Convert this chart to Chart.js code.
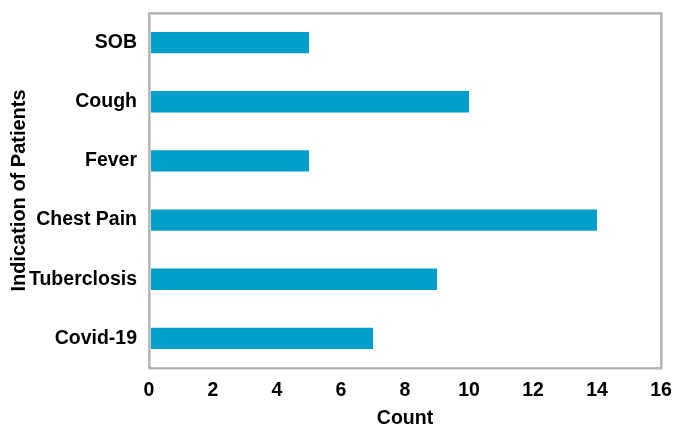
<!DOCTYPE html>
<html>
<head>
<meta charset="utf-8">
<script src="https://cdn.jsdelivr.net/npm/chart.js@4"></script>
<style>
  html, body { margin:0; padding:0; background:#fff; }
  #wrap { width:675px; height:425px; }
</style>
</head>
<body>
<div id="wrap"><canvas id="chart"></canvas></div>
<script>
const categories = ['SOB', 'Cough', 'Fever', 'Chest Pain', 'Tuberclosis', 'Covid-19'];
const counts = [5, 10, 5, 14, 9, 7];
const xTicks = [0, 2, 4, 6, 8, 10, 12, 14, 16];

const BAR_COLOR = '#009fc9';
const FONT = { family: "'Liberation Sans', Arial, sans-serif", size: 19.5, weight: 'bold' };

/* grey frame around the plot area */
const frame = {
  id: 'frame',
  afterDraw(chart) {
    const { ctx, chartArea: a } = chart;
    ctx.save();
    ctx.strokeStyle = '#d4d4d4';
    ctx.lineWidth = 2;
    ctx.strokeRect(a.left + 1, a.top + 1, a.right - a.left, a.bottom - a.top);
    ctx.strokeStyle = '#a6a6a6';
    ctx.lineWidth = 1.5;
    ctx.strokeRect(a.left, a.top, a.right - a.left, a.bottom - a.top);
    ctx.restore();
  }
};

new Chart(document.getElementById('chart'), {
  type: 'bar',
  data: {
    labels: categories,
    datasets: [{ label: 'Count', data: counts, backgroundColor: BAR_COLOR, barPercentage: 0.36, categoryPercentage: 1 }]
  },
  options: {
    indexAxis: 'y',
    responsive: true, maintainAspectRatio: false, animation: false,
    layout: { padding: { top: 13, right: 14, left: 0, bottom: 0 } },
    plugins: { legend: { display: false }, tooltip: { enabled: false } },
    scales: {
      x: {
        min: 0, max: 16,
        afterBuildTicks: s => { s.ticks = xTicks.map(v => ({ value: v })); },
        afterFit: s => { s.height = 57; s.paddingLeft = 0; s.paddingRight = 0; },
        grid: { display: false, drawTicks: false },
        border: { display: false },
        ticks: { color: '#000', font: FONT, padding: 11 },
        title: { display: true, text: 'Count', color: '#000', font: FONT, padding: { top: 5, bottom: -5 } }
      },
      y: {
        afterFit: s => { s.width = 149; s.paddingTop = 0; s.paddingBottom = 0; },
        grid: { display: false, drawTicks: false },
        border: { display: false },
        ticks: { color: '#000', font: FONT, padding: 12 },
        title: { display: true, text: 'Indication of Patients', color: '#000', font: { ...FONT, size: 20 }, padding: { top: 7, bottom: 0 } }
      }
    }
  },
  plugins: [frame]
});
</script>
</body>
</html>
